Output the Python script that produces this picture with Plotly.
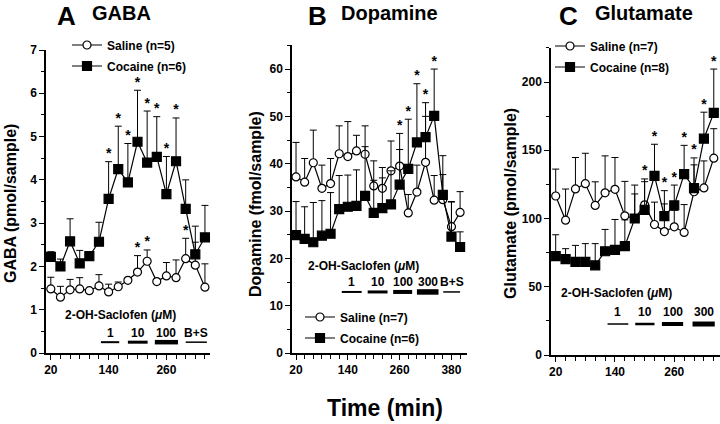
import plotly.graph_objects as go

FONT = "Liberation Sans, Arial, Helvetica, sans-serif"
W, H = 720, 424

# ---------------- Panel A: GABA ----------------
gaba_time = [20, 40, 60, 80, 100, 120, 140, 160, 180, 200, 220, 240, 260, 280, 300, 320, 340]
gaba_saline = [1.48, 1.29, 1.46, 1.48, 1.44, 1.55, 1.41, 1.53, 1.68, 1.87, 2.12, 1.65, 1.78, 1.74, 2.18, 2.03, 1.52]
gaba_saline_top = [1.75, 1.54, 1.70, 1.74, 1.48, 1.81, 1.59, 1.64, 1.70, 2.25, 2.38, 1.70, 2.09, 2.15, 2.65, 2.56, 2.06]
gaba_cocaine = [2.22, 2.00, 2.58, 2.07, 2.24, 2.57, 3.56, 4.25, 3.94, 4.88, 4.40, 4.53, 3.67, 4.43, 3.33, 2.28, 2.67]
gaba_cocaine_top = [2.34, 2.17, 3.10, 2.37, 2.26, 3.02, 4.42, 5.24, 4.84, 6.07, 5.59, 5.46, 4.54, 5.43, 4.00, 2.93, 3.41]
gaba_cocaine_star_times = [140, 160, 180, 200, 220, 240, 260, 280]
gaba_saline_star_times = [200, 220, 300]
gaba_drug_labels = ["1", "10", "100", "B+S"]
gaba_drug_start = [124, 180, 236, 300]
gaba_drug_end = [162, 221, 284, 344]
gaba_drug_width = [2, 3, 4.5, 1.5]

# ---------------- Panel B: Dopamine ----------------
da_time = [20, 40, 60, 80, 100, 120, 140, 160, 180, 200, 220, 240, 260, 280, 300, 320, 340, 360, 380, 400]
da_saline = [37.2, 36.1, 40.2, 34.8, 35.8, 42.1, 41.5, 42.7, 42.0, 35.3, 34.8, 38.5, 39.5, 29.6, 34.0, 40.3, 32.3, 32.4, 26.7, 29.7]
da_saline_top = [44.5, 41.1, 47.1, 39.7, 41.1, 48.0, 48.9, 46.0, 48.0, 40.6, 39.2, 44.8, 43.0, 33.5, 39.7, 50.0, 37.5, 37.7, 32.0, 34.1]
da_cocaine = [24.9, 24.1, 23.4, 24.8, 25.2, 30.4, 30.9, 31.1, 33.2, 29.6, 30.6, 31.4, 35.6, 38.9, 44.5, 45.6, 50.1, 33.4, 24.6, 22.4]
da_cocaine_top = [32.0, 30.9, 31.8, 32.2, 33.9, 37.5, 37.6, 38.7, 43.6, 36.5, 37.0, 38.5, 46.4, 49.4, 56.9, 52.9, 60.0, 41.7, 31.9, 25.6]
da_cocaine_star_times = [260, 280, 300, 320, 340]
da_drug_labels = ["1", "10", "100", "300", "B+S"]
da_drug_start = [126, 186, 245, 300, 361]
da_drug_end = [172, 232, 289, 350, 400]
da_drug_width = [2, 3, 4, 5.5, 1.5]

# ---------------- Panel C: Glutamate ----------------
glu_time = [20, 40, 60, 80, 100, 120, 140, 160, 180, 200, 220, 240, 260, 280, 300, 320, 340]
glu_saline = [116.5, 98.8, 121.7, 125.5, 109.6, 118.8, 121.4, 102.0, 100.0, 110.0, 95.6, 90.4, 93.9, 89.8, 119.6, 122.4, 144.2]
glu_saline_top = [136.2, 121.6, 144.7, 147.8, 126.9, 145.9, 144.7, 127.2, 124.5, 127.0, 112.0, 110.7, 106.0, 110.2, 139.3, 142.2, 165.8]
glu_cocaine = [72.5, 70.2, 68.2, 68.2, 65.7, 76.0, 77.0, 79.7, 100.0, 106.3, 131.3, 101.7, 109.6, 132.5, 122.2, 158.5, 177.4]
glu_cocaine_top = [88.1, 77.9, 80.3, 81.6, 81.6, 92.0, 99.3, 99.0, 118.0, 129.0, 154.4, 120.4, 124.5, 153.6, 144.4, 177.9, 209.5]
glu_cocaine_star_times = [200, 220, 240, 260, 280, 300, 320, 340]
glu_drug_labels = ["1", "10", "100", "300"]
glu_drug_start = [125, 181, 235, 297]
glu_drug_end = [167, 220, 278, 342]
glu_drug_width = [1.5, 2.5, 4, 5]


def px(x):
    return x / W


def py(y):
    return 1 - y / H


fig = go.Figure()


def add_series(xa, ya, t, vals, tops, name, symbol, fill, size, legend):
    plus = [max(tp - v, 0) for tp, v in zip(tops, vals)]
    fig.add_trace(go.Scatter(
        x=t, y=vals, mode="lines+markers", name=name, xaxis=xa, yaxis=ya,
        legend=legend,
        line=dict(color="black", width=1.2),
        marker=dict(symbol=symbol, size=size, color=fill, line=dict(color="black", width=1.2)),
        error_y=dict(type="data", symmetric=False, array=plus, arrayminus=[0] * len(plus),
                     color="black", thickness=1, width=3.5),
    ))


def add_stars(xa, ya, t, tops, star_times):
    ys = [tops[t.index(s)] for s in star_times]
    fig.add_trace(go.Scatter(
        x=star_times, y=ys, mode="text", text=["*"] * len(ys), textposition="top center",
        textfont=dict(family=FONT, size=14, color="black", weight="bold"),
        xaxis=xa, yaxis=ya, showlegend=False, hoverinfo="skip",
    ))


# Panel A
add_series("x", "y", gaba_time, gaba_saline, gaba_saline_top, "Saline (n=5)", "circle", "white", 8, "legend")
add_series("x", "y", gaba_time, gaba_cocaine, gaba_cocaine_top, "Cocaine (n=6)", "square", "black", 9, "legend2")
add_stars("x", "y", gaba_time, gaba_cocaine_top, gaba_cocaine_star_times)
add_stars("x", "y", gaba_time, gaba_saline_top, gaba_saline_star_times)

# Panel B
add_series("x2", "y2", da_time, da_saline, da_saline_top, "Saline (n=7)", "circle", "white", 8, "legend3")
add_series("x2", "y2", da_time, da_cocaine, da_cocaine_top, "Cocaine (n=6)", "square", "black", 9, "legend4")
add_stars("x2", "y2", da_time, da_cocaine_top, da_cocaine_star_times)

# Panel C
add_series("x3", "y3", glu_time, glu_saline, glu_saline_top, "Saline (n=7)", "circle", "white", 8, "legend5")
add_series("x3", "y3", glu_time, glu_cocaine, glu_cocaine_top, "Cocaine (n=8)", "square", "black", 9, "legend6")
add_stars("x3", "y3", glu_time, glu_cocaine_top, glu_cocaine_star_times)

tickfont = dict(family=FONT, size=12, color="black", weight="bold")


def xaxis_def(domain, rng, anchor):
    return dict(domain=domain, range=rng, anchor=anchor, tick0=20, dtick=120,
                ticks="outside", ticklen=5, tickwidth=1.2, tickcolor="black",
                minor=dict(tick0=20, dtick=20, ticks="outside", ticklen=4, tickwidth=1, tickcolor="black"),
                showline=True, linecolor="black", linewidth=1.5, showgrid=False, zeroline=False,
                tickfont=tickfont, fixedrange=True, automargin=False)


def yaxis_def(domain, rng, dtick, minor, anchor):
    return dict(domain=domain, range=rng, anchor=anchor, tick0=0, dtick=dtick,
                ticks="outside", ticklen=5, tickwidth=1.2, tickcolor="black",
                minor=dict(tick0=0, dtick=minor, ticks="outside", ticklen=3, tickwidth=1, tickcolor="black"),
                showline=True, linecolor="black", linewidth=1.5, showgrid=False, zeroline=False,
                tickfont=tickfont, fixedrange=True, automargin=False)


legfont = dict(family=FONT, size=12, color="black", weight="bold")


def leg(x, y):
    return dict(x=px(x), y=py(y), xanchor="left", yanchor="middle", bgcolor="rgba(0,0,0,0)",
                borderwidth=0, font=legfont, itemwidth=30)


fig.update_layout(
    width=W, height=H, margin=dict(l=0, r=0, t=0, b=0, pad=0, autoexpand=False),
    paper_bgcolor="white", plot_bgcolor="white",
    font=dict(family=FONT, color="black"),
    xaxis=xaxis_def([px(46), px(210)], [10, 350.5], "y"),
    yaxis=yaxis_def([py(353), py(50)], [0, 7], 1, 0.5, "x"),
    xaxis2=xaxis_def([px(292), px(467)], [10.7, 416], "y2"),
    yaxis2=yaxis_def([py(353), py(45.4)], [0, 65], 10, 5, "x2"),
    xaxis3=xaxis_def([px(551), 1.0], [10.5, 352.6], "y3"),
    yaxis3=yaxis_def([py(355), py(47.9)], [0, 225], 50, 25, "x3"),
    legend=leg(67, 45), legend2=leg(67, 66),
    legend3=leg(300, 317), legend4=leg(300, 338),
    legend5=leg(550, 46), legend6=leg(550, 67),
    showlegend=True,
)

annotations = []
shapes = []


def text(x, y, s, size, xanchor="center", angle=0, ref=("paper", "paper")):
    annotations.append(dict(x=x, y=y, xref=ref[0], yref=ref[1], text=s, showarrow=False,
                            xanchor=xanchor, yanchor="middle", textangle=angle,
                            font=dict(family=FONT, size=size, color="black", weight="bold")))


# panel titles
text(px(55), py(16), "A", 26, "left")
text(px(90), py(13), "GABA", 20, "left")
text(px(306), py(16), "B", 26, "left")
text(px(339), py(13), "Dopamine", 20, "left")
text(px(557), py(16), "C", 26, "left")
text(px(593), py(13), "Glutamate", 20, "left")

# axis titles
text(px(10), py(204), "GABA (pmol/sample)", 16, angle=-90)
text(px(255), py(204), "Dopamine (fmol/sample)", 16, angle=-90)
text(px(510), py(204), "Glutamate (pmol/sample)", 16, angle=-90)
text(px(385), py(408), "Time (min)", 23)


def drug(xa, ya, starts, ends, widths, labels, bar_y, lab_y, title_x, title_y):
    text(title_x, title_y, "2-OH-Saclofen (<i>μ</i>M)", 12, "left", ref=(xa, ya))
    for s, e, w, lab in zip(starts, ends, widths, labels):
        shapes.append(dict(type="line", xref=xa, yref=ya, x0=s, x1=e, y0=bar_y, y1=bar_y,
                           line=dict(color="black", width=w)))
        text((s + e) / 2, lab_y, lab, 12, "center", ref=(xa, ya))


drug("x", "y", gaba_drug_start, gaba_drug_end, gaba_drug_width, gaba_drug_labels, 0.25, 0.47, 45, 0.88)
drug("x2", "y2", da_drug_start, da_drug_end, da_drug_width, da_drug_labels, 12.9, 14.9, 43, 18.4)
drug("x3", "y3", glu_drug_start, glu_drug_end, glu_drug_width, glu_drug_labels, 22.7, 31.5, 27, 45.4)

fig.update_layout(annotations=annotations, shapes=shapes)

fig.write_html("out.html", config={"displayModeBar": False},
               post_script="document.body.style.margin='0';document.body.style.overflow='hidden';")
